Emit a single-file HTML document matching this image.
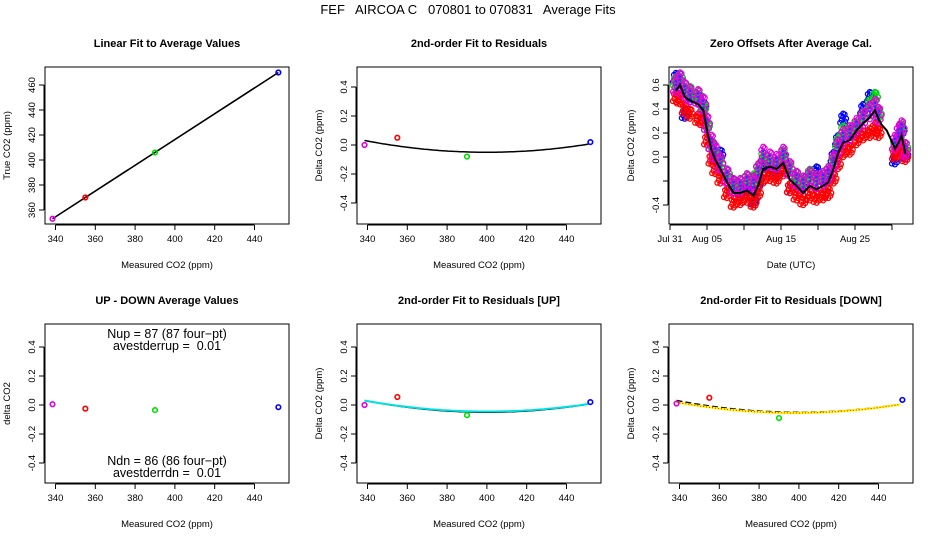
<!DOCTYPE html>
<html><head><meta charset="utf-8"><style>
html,body{margin:0;padding:0;background:#fff;}
svg{display:block;font-family:"Liberation Sans",sans-serif;}
svg text{white-space:pre;}
</style></head><body>
<svg id="c" width="936" height="540" viewBox="0 0 936 540">
<defs><clipPath id="clip3"><rect x="669" y="67" width="244" height="157"/></clipPath></defs>
<text x="468" y="14" font-size="13" text-anchor="middle" xml:space="preserve">FEF   AIRCOA C   070801 to 070831   Average Fits</text>
</svg>
<script>
// ---- data ----
const co2Names = ['magenta','red','green','blue'];
const co2Colors = ['#e000e0','#ff0000','#00e000','#0000ff'];
const measured = [338.5, 355, 390, 452];
const trueVals = [353, 370, 406, 470];
const resid = [0.0, 0.05, -0.08, 0.02];
const updownDiff = [0.005, -0.025, -0.035, -0.015];
const residUp = [0.0, 0.055, -0.07, 0.02];
const residDown = [0.01, 0.05, -0.09, 0.035];
const linFit = [353, 470];
const quadFit = [-0.05, 400, 2.15e-5];
const quadFitUp = [-0.045, 400, 2.0e-5];
const quadFitDown = [-0.055, 398, 2.1e-5];
const co2Ticks = [340, 360, 380, 400, 420, 440];
const trueTicks = [360, 380, 400, 420, 440, 460];
const deltaTicks = [-0.4, -0.2, 0.0, 0.2, 0.4];
const zeroTicks = [-0.4, -0.2, 0.0, 0.2, 0.4, 0.6];
const zeroTickLabels = ['-0.4', '', '0.0', '0.2', '0.4', '0.6'];
const dateTicks = [0, 5, 10, 15, 20, 25, 30];
const dateTickLabels = ['Jul 31', 'Aug 05', '', 'Aug 15', '', 'Aug 25', ''];
const days = [0.8,1.35,2,2.7,3.8,4.5,5,5.6,6.1,6.8,7.7,8.6,9.5,10.4,11.3,11.9,12.6,13.5,14.4,15.3,16.2,17.1,18,18.9,19.8,20.7,21.4,22.1,22.7,23.4,24.3,25.2,26.1,27,27.7,28.2,28.6,29.3,30.4,30.9,31.3,31.8];
const meanOffset = [0.55,0.6,0.5,0.47,0.44,0.39,0.22,0.06,-0.02,-0.1,-0.21,-0.3,-0.3,-0.28,-0.32,-0.24,-0.1,-0.08,-0.1,-0.05,-0.19,-0.24,-0.3,-0.24,-0.27,-0.24,-0.21,-0.1,0.03,0.12,0.14,0.22,0.28,0.33,0.39,0.31,0.27,0.22,0.07,0.12,0.18,0.03];
const magentaOff = [0.6,0.64,0.56,0.52,0.5,0.44,0.28,0.12,0.04,-0.05,-0.16,-0.24,-0.24,-0.2,-0.22,-0.12,0.02,-0.02,-0.04,0.02,-0.1,-0.18,-0.22,-0.17,-0.2,-0.18,-0.14,-0.04,0.08,0.17,0.2,0.26,0.32,0.38,0.42,0.35,null,null,0.12,0.2,0.24,0.06];
const redOff = [0.5,0.48,0.4,0.36,0.32,0.3,0.14,-0.02,-0.1,-0.18,-0.3,-0.38,-0.36,-0.34,-0.38,-0.3,-0.18,-0.16,-0.18,-0.12,-0.26,-0.32,-0.36,-0.32,-0.34,-0.32,-0.3,-0.18,-0.06,0.04,0.06,0.14,0.18,0.2,0.24,0.2,null,null,0.02,0.04,0.08,0.0];
const blueOff = [0.66,0.66,0.36,0.5,0.48,0.42,0.26,0.1,0.0,0.02,-0.14,-0.22,-0.28,-0.26,-0.36,-0.22,-0.06,-0.08,-0.14,-0.02,-0.26,-0.2,-0.22,-0.14,-0.12,-0.2,-0.16,-0.0,0.14,0.32,0.2,0.22,0.4,0.5,0.5,0.36,null,null,-0.02,0.04,0.22,0.02];
const greenOff = [0.63,0.66,0.58,0.55,0.52,0.4,0.26,0.1,0.02,-0.06,-0.14,-0.24,-0.22,-0.18,-0.18,-0.1,0.0,-0.04,-0.06,0.02,-0.1,-0.16,-0.2,-0.14,-0.18,-0.16,-0.12,-0.04,0.12,0.22,0.22,0.26,0.34,0.44,0.5,0.36,null,null,0.1,0.16,0.24,0.08];

const svg = document.getElementById('c');
const NS = 'http://www.w3.org/2000/svg';
function el(tag, attrs, parent){ const e=document.createElementNS(NS,tag); for(const k in attrs) e.setAttribute(k,attrs[k]); (parent||svg).appendChild(e); return e; }

const PW = 244;
const lefts = [45, 357, 669];
function xCO2(L){ return v => L + 10.5 + (v-340)*1.99; }

function frame(L, T, B, name, title){
  const g = el('g', {});
  
  
  const r = el('rect', {x:L, y:T, width:PW, height:B-T, fill:'none', stroke:'#000', 'stroke-width':1}, g);
  
  
  const t = el('text', {x:L+PW/2, y:T-20, 'font-size':11, 'font-weight':'bold', 'text-anchor':'middle'}, g);
  t.textContent = title;
  
  
  return g;
}
function xAxis(g, B, ticks, labels, fx, title, name){
  const a = el('g', {}, g);
  
  
  el('line', {x1:fx(ticks[0]), x2:fx(ticks[ticks.length-1]), y1:B+1, y2:B+1, stroke:'#000'}, a);
  ticks.forEach((t,i)=>{
    el('line', {x1:fx(t), x2:fx(t), y1:B+1, y2:B+6, stroke:'#000'}, a);
    if(labels[i]!==''){
      const tx = el('text', {x:fx(t), y:B+18, 'font-size':9.5, 'text-anchor':'middle'}, a);
      tx.textContent = labels[i];
      
      
    }
  });
  const tt = el('text', {x:g.firstChild.x.baseVal.value + PW/2, y:B+44, 'font-size':9.5, 'text-anchor':'middle'}, a);
  tt.textContent = title;
  
  
}
function yAxis(g, L, ticks, labels, fy, title, name, T, B){
  const a = el('g', {}, g);
  
  
  el('line', {x1:L-1, x2:L-1, y1:fy(ticks[0]), y2:fy(ticks[ticks.length-1]), stroke:'#000'}, a);
  ticks.forEach((t,i)=>{
    el('line', {x1:L-6, x2:L-1, y1:fy(t), y2:fy(t), stroke:'#000'}, a);
    if(labels[i]!==''){
      const y = fy(t);
      const tx = el('text', {x:L-10, y:y, 'font-size':9.5, 'text-anchor':'middle', transform:`rotate(-90 ${L-10} ${y})`}, a);
      tx.textContent = labels[i];
      
      
    }
  });
  const cy = (T+B)/2;
  const tt = el('text', {x:L-35, y:cy, 'font-size':9.5, 'text-anchor':'middle', transform:`rotate(-90 ${L-35} ${cy})`}, a);
  tt.textContent = title;
  
  
}
function points(g, xs, ys, fx, fy, name){
  xs.forEach((x,i)=>{
    const c = el('circle', {cx:fx(x), cy:fy(ys[i]), r:2.3, fill:'none', stroke:co2Colors[i], 'stroke-width':1.6}, g);
    
    
  });
}
function quadCurve(g, coef, fx, fy, color, dash, name, width){
  let d='';
  for(let v=338.5; v<=452.01; v+=1.5){ const y = coef[0] + coef[2]*(v-coef[1])*(v-coef[1]); d += (d?'L':'M') + fx(v).toFixed(1) + ' ' + fy(y).toFixed(1); }
  const p = el('path', {d:d, fill:'none', stroke:color, 'stroke-width':width||1.5}, g);
  if(dash) p.setAttribute('stroke-dasharray', dash);
  
  
}
const fmtD = v => v.toFixed(1);
const co2Labels = co2Ticks.map(String);

{
  const L=lefts[0], T=67, B=224, fx=xCO2(L), fy=v=>210-(v-360)*1.25;
  const g = frame(L,T,B,'linear-fit-panel','Linear Fit to Average Values');
  xAxis(g,B,co2Ticks,co2Labels,fx,'Measured CO2 (ppm)','linear-fit');
  yAxis(g,L,trueTicks,trueTicks.map(String),fy,'True CO2 (ppm)','linear-fit',T,B);
  const ln = el('line',{x1:fx(measured[0]),y1:fy(linFit[0]),x2:fx(measured[3]),y2:fy(linFit[1]),stroke:'#000','stroke-width':1.6},g);
  
  
  points(g,measured,trueVals,fx,fy,'linear-fit');
}
{
  const L=lefts[1], T=67, B=224, fx=xCO2(L), fy=v=>145-v*145;
  const g = frame(L,T,B,'residual-fit-panel','2nd-order Fit to Residuals');
  xAxis(g,B,co2Ticks,co2Labels,fx,'Measured CO2 (ppm)','residual-fit');
  yAxis(g,L,deltaTicks,deltaTicks.map(fmtD),fy,'Delta CO2 (ppm)','residual-fit',T,B);
  quadCurve(g,quadFit,fx,fy,'#000',null,'residual-fit-curve');
  points(g,measured,resid,fx,fy,'residual-fit');
}
{
  const L=lefts[2], T=67, B=224, fx=d=>670+d*7.4, fy=v=>157-v*120;
  const g = frame(L,T,B,'zero-offsets-panel','Zero Offsets After Average Cal.');
  xAxis(g,B,dateTicks,dateTickLabels,fx,'Date (UTC)','zero-offsets');
  yAxis(g,L,zeroTicks,zeroTickLabels,fy,'Delta CO2 (ppm)','zero-offsets',T,B);
  const cg = el('g',{'clip-path':'url(#clip3)'},g);
  const series = [[blueOff,'#0000ff','blue'],[greenOff,'#00e000','green'],[redOff,'#ff0000','red'],[magentaOff,'#e000e0','magenta']];
  const offs = [[-3,-0.05],[-1.5,-0.02],[0,0.02],[1.5,0.05],[3,0],[-2,0.035],[2,-0.035],[0,-0.06],[0,0.06]];
  series.forEach(([arr,col,nm])=>{
    const sg = el('g',{},cg);
    
    
    arr.forEach((v,i)=>{
      if(v===null) return;
      offs.forEach(o=>{
        const c = el('circle',{cx:fx(days[i])+o[0],cy:fy(v+o[1]*(nm==='magenta'?1.1:0.7)),r:2.4,fill:'none',stroke:col,'stroke-width':1.3},sg);
        
        
      });
    });
  });
  magentaOff.forEach((v,i)=>{
    if(v===null) return;
    [-0.03,0,0.03].forEach(o=>{
      const c = el('circle',{cx:fx(days[i]),cy:fy(v+o),r:1.3,fill:'#3030ff'},cg);
      
      
    });
  });
  let d='';
  days.forEach((t,i)=>{ d += (i?'L':'M') + fx(t).toFixed(1)+' '+fy(meanOffset[i]).toFixed(1); });
  const p = el('path',{d:d,fill:'none',stroke:'#000','stroke-width':2},cg);
  
  
}
{
  const L=lefts[0], T=324, B=483, fx=xCO2(L), fy=v=>405-v*145;
  const g = frame(L,T,B,'up-down-panel','UP - DOWN Average Values');
  xAxis(g,B,co2Ticks,co2Labels,fx,'Measured CO2 (ppm)','up-down');
  yAxis(g,L,deltaTicks,deltaTicks.map(fmtD),fy,'delta CO2','up-down',T,B);
  points(g,measured,updownDiff,fx,fy,'up-down');
  const lines = [['Nup = 87 (87 four\u2212pt)',338],['avestderrup =  0.01',350],['Ndn = 86 (86 four\u2212pt)',465],['avestderrdn =  0.01',477]];
  lines.forEach(([s,y],i)=>{
    const t = el('text',{x:L+122,y:y,'font-size':12.5,'text-anchor':'middle'},g);
    t.setAttributeNS('http://www.w3.org/XML/1998/namespace','xml:space','preserve');
    t.textContent = s;
    
    
  });
}
{
  const L=lefts[1], T=324, B=483, fx=xCO2(L), fy=v=>405-v*145;
  const g = frame(L,T,B,'residual-up-panel','2nd-order Fit to Residuals [UP]');
  xAxis(g,B,co2Ticks,co2Labels,fx,'Measured CO2 (ppm)','residual-up');
  yAxis(g,L,deltaTicks,deltaTicks.map(fmtD),fy,'Delta CO2 (ppm)','residual-up',T,B);
  quadCurve(g,quadFit,fx,fy,'#000',null,'residual-up-avg-curve',1.5);
  quadCurve(g,quadFitUp,fx,fy,'#00e0e0',null,'residual-up-curve',2);
  points(g,measured,residUp,fx,fy,'residual-up');
}
{
  const L=lefts[2], T=324, B=483, fx=xCO2(L), fy=v=>405-v*145;
  const g = frame(L,T,B,'residual-down-panel','2nd-order Fit to Residuals [DOWN]');
  xAxis(g,B,co2Ticks,co2Labels,fx,'Measured CO2 (ppm)','residual-down');
  yAxis(g,L,deltaTicks,deltaTicks.map(fmtD),fy,'Delta CO2 (ppm)','residual-down',T,B);
  quadCurve(g,quadFit,fx,fy,'#000','6 3','residual-down-avg-curve',1.5);
  quadCurve(g,quadFitDown,fx,fy,'#ffff00',null,'residual-down-curve',2.2);
  quadCurve(g,quadFitDown,fx,fy,'#ff0000','1 2','residual-down-curve-dots',1);
  points(g,measured,residDown,fx,fy,'residual-down');
}
</script>
</body></html>
